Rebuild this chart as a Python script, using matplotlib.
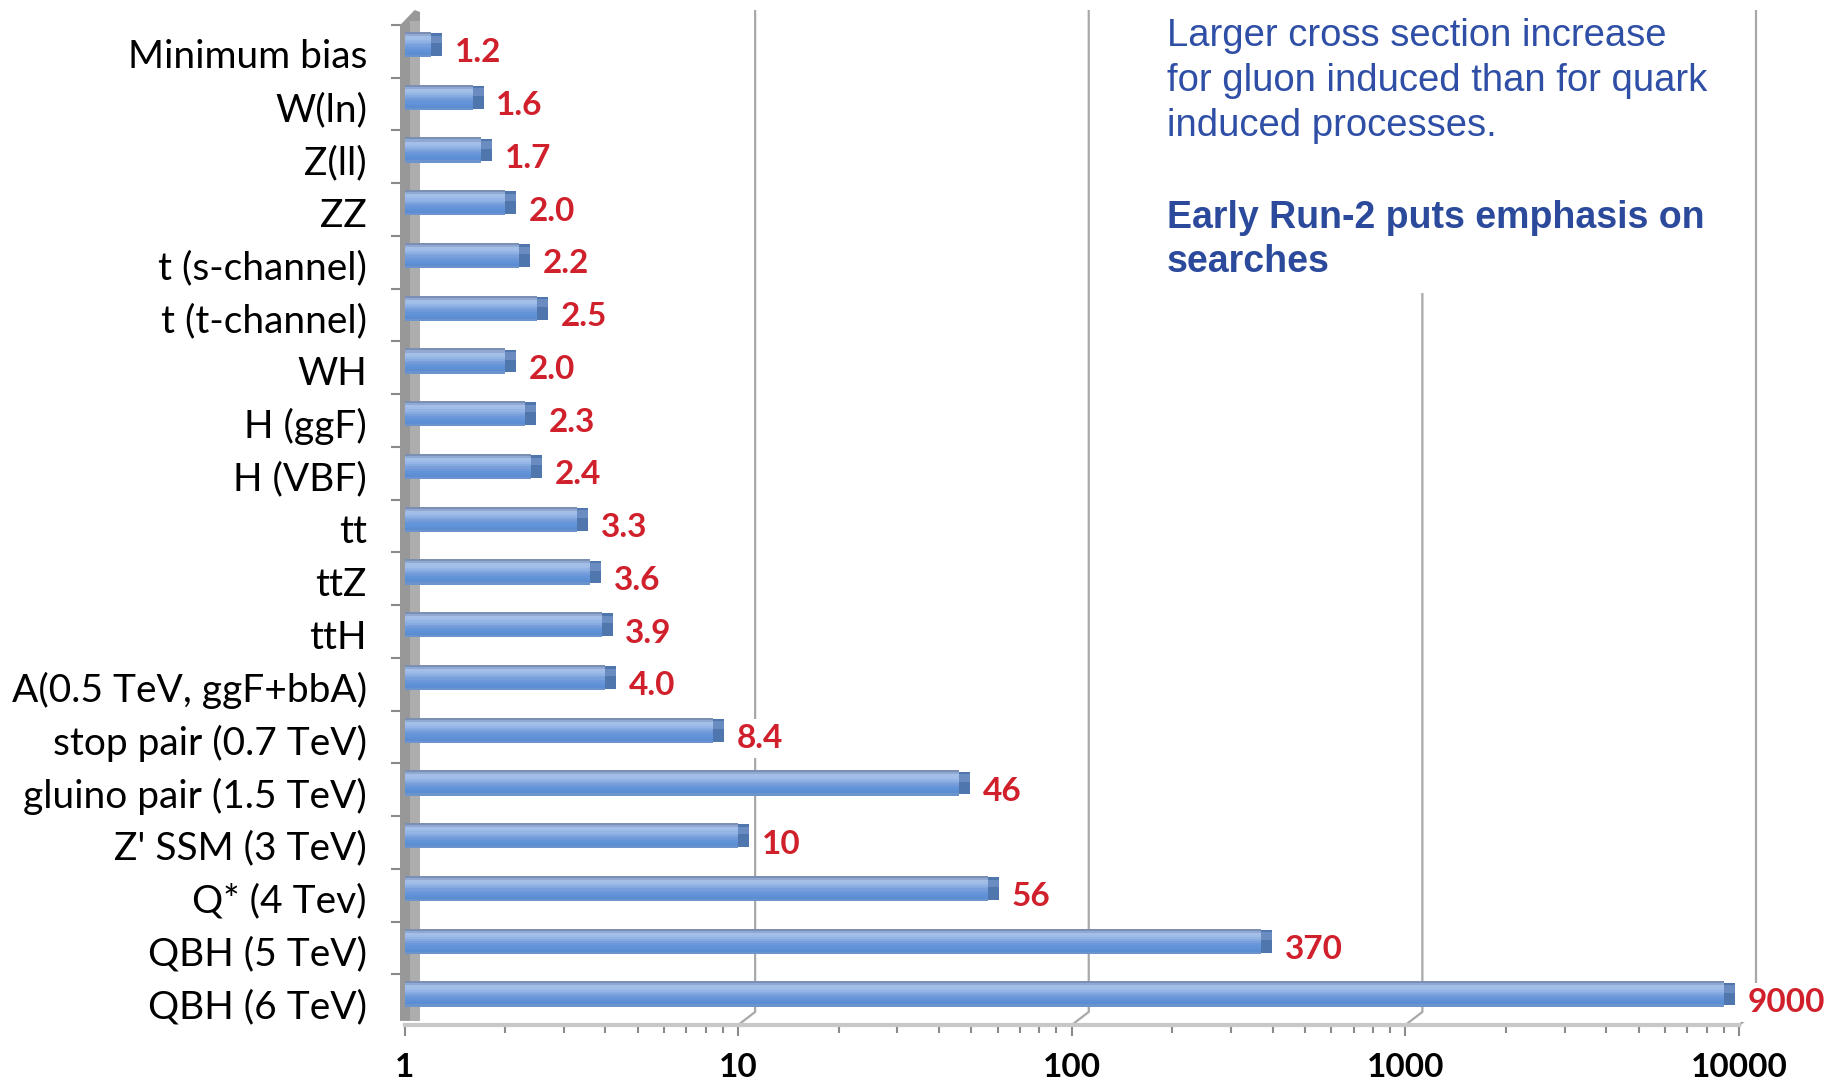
import numpy as np
import matplotlib
matplotlib.use('Agg')
import matplotlib.pyplot as plt
from matplotlib.patches import Polygon, Rectangle
from matplotlib.ticker import FixedLocator, LogLocator, NullFormatter

# cross section ratio 13 TeV / 8 TeV
processes = ['Minimum bias', 'W(ln)', 'Z(ll)', 'ZZ', 't (s-channel)', 't (t-channel)',
             'WH', 'H (ggF)', 'H (VBF)', 'tt', 'ttZ', 'ttH', 'A(0.5 TeV, ggF+bbA)',
             'stop pair (0.7 TeV)', 'gluino pair (1.5 TeV)', "Z' SSM (3 TeV)",
             'Q* (4 Tev)', 'QBH (5 TeV)', 'QBH (6 TeV)']
ratios = np.array([1.2, 1.6, 1.7, 2.0, 2.2, 2.5, 2.0, 2.3, 2.4, 3.3, 3.6, 3.9, 4.0,
                   8.4, 46, 10, 56, 370, 9000])
ratio_labels = ['1.2', '1.6', '1.7', '2.0', '2.2', '2.5', '2.0', '2.3', '2.4', '3.3',
                '3.6', '3.9', '4.0', '8.4', '46', '10', '56', '370', '9000']
xticks = [1, 10, 100, 1000, 10000]
xtick_labels = ['1', '10', '100', '1000', '10000']

note_lines = ['Larger cross section increase', 'for gluon induced than for quark',
              'induced processes.']
note_bold = ['Early Run-2 puts emphasis on', 'searches']

W, H = 1838, 1085
fig = plt.figure(figsize=(W / 100, H / 100), dpi=100)
x_left, x_right, y_top, y_floor = 404.5, 1739, 10, 1025
ax = fig.add_axes([x_left / W, 1 - y_floor / H, (x_right - x_left) / W, (y_floor - y_top) / H])
ax.set_xscale('log')
ax.set_xlim(1, 10000)
ytop_d, ybot_d = -0.654, 18.588
ax.set_ylim(ybot_d, ytop_d)
decade_px = (x_right - x_left) / 4

ypos = np.arange(len(processes))
bar_h = 0.48

# bars with a vertical gradient built from thin stripes (top to bottom)
stripes = ['#7b8fb4', '#8fa9d2', '#a3bfe7', '#a0bde8', '#93b4e4', '#85abe1',
           '#789fdc', '#6c98da', '#6393d8', '#5e90d6', '#5c8dd2', '#6b93cc']
n = len(stripes)
for k, c in enumerate(stripes):
    off = -bar_h / 2 + (k + 0.5) * bar_h / n
    ax.barh(ypos + off, ratios - 1, left=1, height=bar_h / n * 1.05, color=c,
            linewidth=0, zorder=2)
# dark end cap (3D side)
cap_f = 10 ** (11 / decade_px)
ax.barh(ypos, ratios * (cap_f - 1), left=ratios, height=bar_h * 0.9, color='#4f77ad',
        linewidth=0, zorder=2.1)
ax.barh(ypos - bar_h * 0.2, ratios * (cap_f - 1), left=ratios, height=bar_h * 0.3,
        color='#6a8cc0', linewidth=0, zorder=2.15)

for y, r, lab in zip(ypos, ratios, ratio_labels):
    ax.annotate(lab, (r, y), xytext=(17, -6), textcoords='offset points', va='center',
                ha='left', color='#d0202c', fontsize=24, family='Lato', fontweight='bold',
                zorder=4, annotation_clip=False,
                bbox=dict(boxstyle='square,pad=0.15', facecolor='white', edgecolor='none'))

# back-wall gridlines with perspective foot
shift = 10 ** (17 / decade_px)
for d in xticks[1:]:
    ax.plot([d * shift, d * shift, d], [ytop_d, 18.34, ybot_d], color='#a8a8a8', lw=1.6,
            zorder=0.5, clip_on=False, solid_capstyle='butt')

# left side wall
x0, x1 = (400 - x_left) / (x_right - x_left), (420 - x_left) / (x_right - x_left)
ax.add_patch(Polygon([(x0, 0.004), (x0, 0.985), (x1 - 0.004, 1.0), (x1, 0.998), (x1, 0.004)],
                     closed=True, transform=ax.transAxes, facecolor='#989898',
                     edgecolor='none', zorder=1.6, clip_on=False))
ax.add_patch(Rectangle(((x0 + x1) / 2, 0.004), (x1 - x0) / 2, 0.985, transform=ax.transAxes,
                       facecolor='#adadad', edgecolor='none', zorder=1.65, clip_on=False))

for s in ['top', 'right', 'left']:
    ax.spines[s].set_visible(False)
ax.spines['bottom'].set_color('#c8c8c8')
ax.spines['bottom'].set_linewidth(3)

ax.xaxis.set_major_locator(FixedLocator(xticks))
ax.set_xticklabels(xtick_labels)
ax.xaxis.set_minor_locator(LogLocator(base=10, subs=range(2, 10)))
ax.xaxis.set_minor_formatter(NullFormatter())
ax.tick_params(axis='x', which='major', length=8, width=1.5, color='#8a8a8a', pad=12,
               labelsize=24)
ax.tick_params(axis='x', which='minor', length=6, width=1.5, color='#8a8a8a')
for t in ax.get_xticklabels():
    t.set_family('Lato')
    t.set_fontweight('bold')

ax.yaxis.set_major_locator(FixedLocator(ypos + 0.18))
ax.set_yticklabels(processes)
ax.yaxis.set_minor_locator(FixedLocator(np.arange(len(processes) + 1) - 0.37))
ax.tick_params(axis='y', which='major', length=0, pad=27, labelsize=28)
ax.tick_params(axis='y', which='minor', length=10, width=1.5, color='#8a8a8a')
for t in ax.get_yticklabels():
    t.set_family('Lato')

# white panel for the note
fig.patches.append(Rectangle((1150 / W, 1 - 293 / H), (1740 - 1150) / W, 293 / H,
                             transform=fig.transFigure, facecolor='white',
                             edgecolor='none', zorder=1))
for i, line in enumerate(note_lines):
    fig.text(1167 / W, 1 - (46 + 45 * i) / H, line, fontsize=27.5, family='Liberation Sans',
             color='#2f4fa6', va='baseline', ha='left', zorder=3)
for i, line in enumerate(note_bold):
    fig.text(1167 / W, 1 - (228 + 44 * i) / H, line, fontsize=27, family='Liberation Sans',
             fontweight='bold', color='#2b4a9c', va='baseline', ha='left', zorder=3)

fig.savefig('out.png', dpi=100)
